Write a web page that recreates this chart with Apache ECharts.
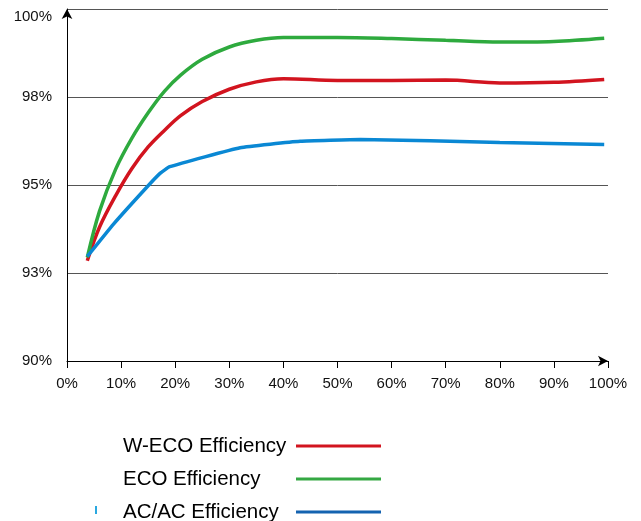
<!DOCTYPE html>
<html>
<head>
<meta charset="utf-8">
<script src="https://cdn.jsdelivr.net/npm/echarts@6/dist/echarts.min.js"></script>
<style>html,body{margin:0;padding:0;background:#fff}#c{width:641px;height:521px}</style>
</head>
<body>
<div id="c"></div>
<script>
var seriesNames = ['W-ECO Efficiency', 'ECO Efficiency', 'AC/AC Efficiency'];
var xTicks = [0, 10, 20, 30, 40, 50, 60, 70, 80, 90, 100];
var yTicks = [90, 92.5, 95, 97.5, 100];
var loadPct = [3.75, 6, 9, 12, 15, 18, 21, 25, 30, 35, 40, 50, 60, 70, 80, 90, 99.3];
var wecoValues = [92.85, 93.8, 94.7, 95.47, 96.08, 96.55, 96.97, 97.37, 97.72, 97.93, 98.02, 97.97, 97.97, 97.98, 97.9, 97.92, 98.0];
var ecoValues = [92.94, 94.25, 95.45, 96.33, 97.05, 97.66, 98.12, 98.57, 98.92, 99.11, 99.19, 99.19, 99.16, 99.11, 99.06, 99.08, 99.17];
var acacLoad = [3.75, 8.6, 14.7, 17.2, 19.0, 32.0, 43.1, 54.2, 80.0, 99.3];
var acacValues = [92.97, 93.89, 94.93, 95.33, 95.52, 96.06, 96.24, 96.29, 96.21, 96.15];

function pairs(xs, ys) { return xs.map(function (x, i) { return [x, ys[i]]; }); }

var FONT = '"Liberation Sans", Arial, sans-serif';
var chart = echarts.init(document.getElementById('c'));
chart.setOption({
  animation: false,
  grid: { left: 67, right: 33, top: 9, bottom: 160 },
  xAxis: {
    type: 'value', min: 0, max: 100, interval: 10,
    axisLine: { show: true, lineStyle: { color: '#000', width: 1 }, symbol: ['none', 'arrow'], symbolSize: [8, 10], symbolOffset: [0, 0] },
    axisTick: { show: true, length: 7, lineStyle: { color: '#000' } },
    splitLine: { show: false },
    axisLabel: { color: '#111', fontFamily: FONT, fontSize: 15, margin: 15, formatter: function (v) { return v + '%'; } }
  },
  yAxis: {
    type: 'value', min: 90, max: 100, interval: 2.5,
    axisLine: { show: true, lineStyle: { color: '#000', width: 1 }, symbol: ['none', 'arrow'], symbolSize: [8, 10], symbolOffset: [0, 0] },
    axisTick: { show: false },
    splitLine: { show: true, lineStyle: { color: '#555', width: 1 } },
    axisLabel: { color: '#111', fontFamily: FONT, fontSize: 15, margin: 15, verticalAlignMaxLabel: 'top', formatter: function (v) { return Math.round(v) + '%'; } }
  },
  legend: {
    orient: 'vertical', left: 118, top: 430, height: 100, align: 'right',
    icon: 'rect', itemWidth: 85, itemHeight: 3, itemGap: 11,
    formatter: function (name) { return '{a|' + name + '}'; },
    textStyle: {
      fontFamily: FONT, fontSize: 20.5, color: '#000', lineHeight: 22,
      rich: { a: { width: 168, align: 'left', fontFamily: FONT, fontSize: 20.5, color: '#000', lineHeight: 22 } }
    },
    data: [
      { name: seriesNames[0], itemStyle: { color: '#d2141f' } },
      { name: seriesNames[1], itemStyle: { color: '#34a843' } },
      { name: seriesNames[2], itemStyle: { color: '#1463b0' } }
    ]
  },
  graphic: [
    { type: 'rect', left: 95, top: 506, shape: { width: 2, height: 8 }, style: { fill: '#2aa8e0' } }
  ],
  series: [
    { name: seriesNames[0], type: 'line', data: pairs(loadPct, wecoValues), smooth: 0.35, showSymbol: false, lineStyle: { color: '#d2141f', width: 3.5 }, itemStyle: { color: '#d2141f' } },
    { name: seriesNames[1], type: 'line', data: pairs(loadPct, ecoValues), smooth: 0.35, showSymbol: false, lineStyle: { color: '#2eaa3e', width: 3.5 }, itemStyle: { color: '#2eaa3e' } },
    { name: seriesNames[2], type: 'line', data: pairs(acacLoad, acacValues), smooth: 0.12, showSymbol: false, lineStyle: { color: '#0a88d4', width: 3.5 }, itemStyle: { color: '#0a88d4' } }
  ]
});
</script>
</body>
</html>
